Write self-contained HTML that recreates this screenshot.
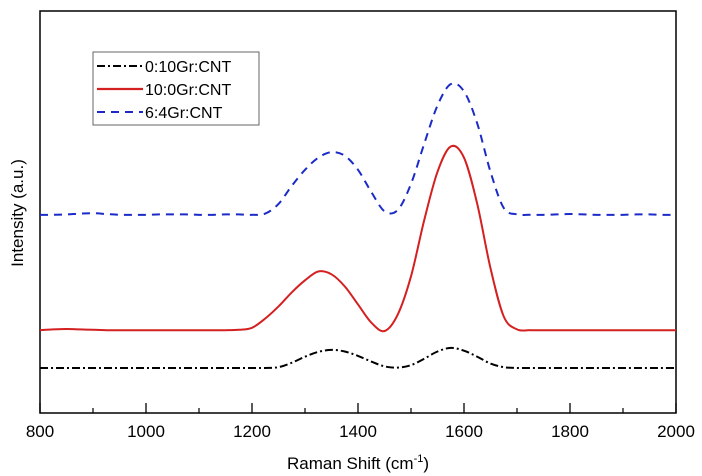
<!DOCTYPE html>
<html><head><meta charset="utf-8"><style>
body{margin:0;background:#fff;}
svg{display:block;font-family:"Liberation Sans",Arial,sans-serif;}
</style></head><body>
<svg id="chart" width="702" height="476">
<rect x="40" y="11" width="636" height="402" fill="none" stroke="#000" stroke-width="1.5"/>
<g id="ticks"></g>
<g id="series"></g>
<text x="358" y="469" font-size="17" text-anchor="middle">Raman Shift (cm<tspan dy="-7" font-size="11">-1</tspan><tspan dy="7">)</tspan></text>
<text transform="translate(23,213) rotate(-90)" font-size="17" text-anchor="middle">Intensity (a.u.)</text>
<g>
<rect x="93" y="52" width="166" height="73" fill="#fff" stroke="#666" stroke-width="1"/>
<line x1="97" y1="66" x2="143" y2="66" stroke="#000" stroke-width="2" stroke-dasharray="8,3,2,3"/>
<text x="145" y="72" font-size="16">0:10Gr:CNT</text>
<line x1="97" y1="89" x2="143" y2="89" stroke="#d42020" stroke-width="2.2"/>
<text x="145" y="95" font-size="16">10:0Gr:CNT</text>
<line x1="97" y1="112" x2="143" y2="112" stroke="#1c2bc8" stroke-width="2" stroke-dasharray="8,6"/>
<text x="145" y="118" font-size="16">6:4Gr:CNT</text>
</g>
</svg>
<script>
const xs = [800,825,850,875,900,925,950,975,1000,1025,1050,1075,1100,1125,1150,1175,1200,1225,1250,1275,1300,1325,1350,1375,1400,1425,1450,1475,1500,1525,1550,1575,1600,1625,1650,1675,1700,1725,1750,1775,1800,1825,1850,1875,1900,1925,1950,1975,2000];
const black = [11.2,11.2,11.2,11.2,11.2,11.2,11.2,11.2,11.2,11.2,11.2,11.2,11.2,11.2,11.2,11.2,11.2,11.2,11.4,12.5,14.0,15.2,15.7,15.3,14.2,12.8,11.6,11.3,11.9,13.5,15.3,16.2,15.5,14.0,12.3,11.4,11.2,11.2,11.2,11.2,11.2,11.2,11.2,11.2,11.2,11.2,11.2,11.2,11.2];
const red = [20.6,20.8,20.9,20.8,20.7,20.6,20.6,20.6,20.6,20.6,20.6,20.6,20.6,20.6,20.6,20.7,21.2,23.5,26.5,30.0,33.0,35.2,34.5,31.5,27.0,22.5,20.4,24.5,34.0,48.0,60.0,66.3,63.5,52.0,36.0,24.0,20.8,20.6,20.6,20.6,20.6,20.6,20.6,20.6,20.6,20.6,20.6,20.6,20.6];
const blue = [49.3,49.3,49.4,49.6,49.7,49.5,49.3,49.3,49.3,49.4,49.4,49.4,49.3,49.3,49.4,49.4,49.3,49.6,52.0,56.5,60.5,63.5,64.9,64.0,60.5,55.0,50.2,50.5,57.0,67.0,76.5,81.8,80.0,72.0,60.0,51.0,49.4,49.3,49.3,49.4,49.5,49.4,49.3,49.3,49.3,49.4,49.4,49.3,49.3];
const xTicks = [800,1000,1200,1400,1600,1800,2000];
const xMinor = [900,1100,1300,1500,1700,1900];
const NS='http://www.w3.org/2000/svg';
const L=40,R=676,T=11,B=413;
function sx(v){return L+(v-800)/(2000-800)*(R-L);}
function sy(v){return B-v/100*(B-T);}
const tg=document.getElementById('ticks');
xTicks.forEach(t=>{
  const l=document.createElementNS(NS,'line');
  l.setAttribute('x1',sx(t));l.setAttribute('x2',sx(t));l.setAttribute('y1',B);l.setAttribute('y2',B-10);
  l.setAttribute('stroke','#000');l.setAttribute('stroke-width','1.3');
  
  
  tg.appendChild(l);
  const tx=document.createElementNS(NS,'text');
  tx.setAttribute('x',sx(t));tx.setAttribute('y',B+24);tx.setAttribute('font-size','17');tx.setAttribute('text-anchor','middle');
  tx.textContent=t;
  
  
  tg.appendChild(tx);
});
xMinor.forEach(t=>{
  const l=document.createElementNS(NS,'line');
  l.setAttribute('x1',sx(t));l.setAttribute('x2',sx(t));l.setAttribute('y1',B);l.setAttribute('y2',B-5);
  l.setAttribute('stroke','#000');l.setAttribute('stroke-width','1.2');
  
  
  tg.appendChild(l);
});
function pathFor(vals){
  const p=xs.map((x,i)=>[sx(x),sy(vals[i])]);
  let d='M'+p[0][0]+','+p[0][1];
  for(let i=0;i<p.length-1;i++){
    const p0=p[i-1]||p[i],p1=p[i],p2=p[i+1],p3=p[i+2]||p2;
    const c1=[p1[0]+(p2[0]-p0[0])/6,p1[1]+(p2[1]-p0[1])/6];
    const c2=[p2[0]-(p3[0]-p1[0])/6,p2[1]-(p3[1]-p1[1])/6];
    d+=' C'+c1+' '+c2+' '+p2;
  }
  return d;
}
const sg=document.getElementById('series');
[[black,'#000','8,3,2,3','series-0-10'],[red,'#d42020','','series-10-0'],[blue,'#1c2bc8','8,6','series-6-4']].forEach(s=>{
  const pa=document.createElementNS(NS,'path');
  pa.setAttribute('d',pathFor(s[0]));pa.setAttribute('fill','none');pa.setAttribute('stroke',s[1]);
  pa.setAttribute('stroke-width','2');
  if(s[2])pa.setAttribute('stroke-dasharray',s[2]);
  
  
  sg.appendChild(pa);
});
</script>
</body></html>
